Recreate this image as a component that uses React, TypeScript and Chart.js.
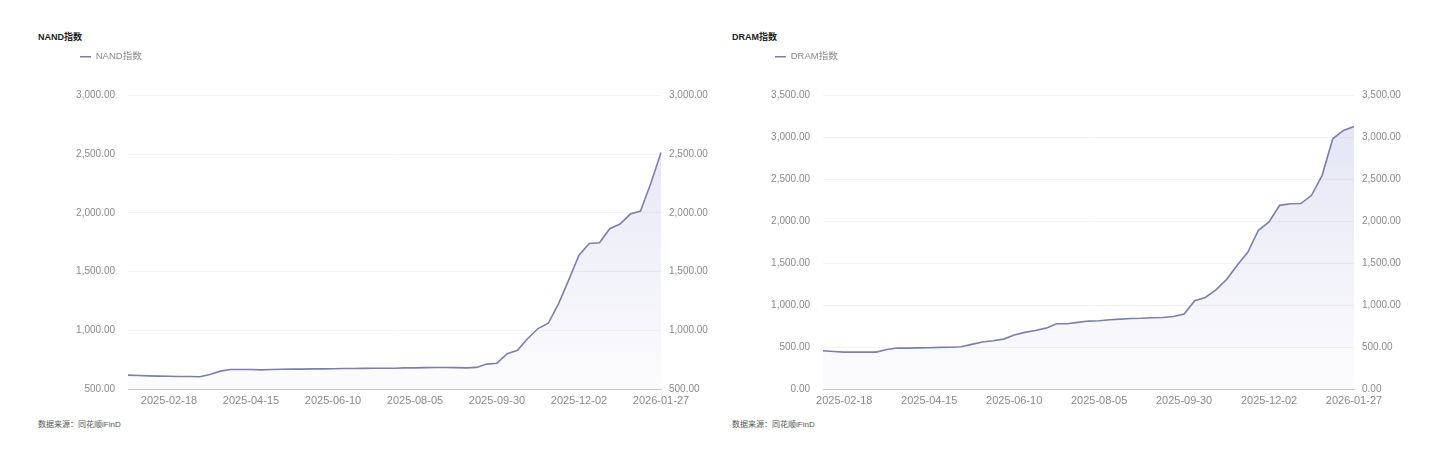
import React, { useEffect, useRef } from 'react';
import { Chart, registerables } from 'chart.js';

Chart.register(...registerables);

// weekly dates (Tuesdays), National Day week is missing
const weekDates = [
  '2025-01-21', '2025-01-28', '2025-02-04', '2025-02-11', '2025-02-18', '2025-02-25',
  '2025-03-04', '2025-03-11', '2025-03-18', '2025-03-25', '2025-04-01', '2025-04-08',
  '2025-04-15', '2025-04-22', '2025-04-29', '2025-05-06', '2025-05-13', '2025-05-20',
  '2025-05-27', '2025-06-03', '2025-06-10', '2025-06-17', '2025-06-24', '2025-07-01',
  '2025-07-08', '2025-07-15', '2025-07-22', '2025-07-29', '2025-08-05', '2025-08-12',
  '2025-08-19', '2025-08-26', '2025-09-02', '2025-09-09', '2025-09-16', '2025-09-23',
  '2025-09-30', '2025-10-14', '2025-10-21', '2025-10-28', '2025-11-04', '2025-11-11',
  '2025-11-18', '2025-11-25', '2025-12-02', '2025-12-09', '2025-12-16', '2025-12-23',
  '2025-12-30', '2026-01-06', '2026-01-13', '2026-01-20', '2026-01-27',
];

const nandDates = weekDates;
const dramDates = weekDates.slice(2);

const xTickLabels = [
  '2025-02-18', '2025-04-15', '2025-06-10', '2025-08-05', '2025-09-30', '2025-12-02', '2026-01-27',
];

const nandValues = [
  618, 615, 612, 610, 608, 607, 606, 604, 624, 652, 666, 666, 666, 663, 666, 668,
  669, 669, 671, 671, 672, 674, 674, 676, 677, 677, 677, 680, 680, 682, 683, 683,
  682, 680, 684, 712, 720, 800, 830, 930, 1015, 1060, 1225, 1430, 1640, 1740, 1745,
  1865, 1905, 1990, 2015, 2250, 2515,
];

const dramValues = [
  456, 448, 440, 440, 440, 440, 472, 488, 488, 490, 492, 496, 497, 504, 532, 560,
  575, 595, 643, 675, 698, 726, 778, 778, 794, 810, 813, 825, 833, 841, 843, 849,
  853, 865, 893, 1052, 1091, 1183, 1306, 1476, 1631, 1893, 1992, 2190, 2210, 2212,
  2310, 2548, 2984, 3083, 3131,
];

const FONT = "'Liberation Sans', 'Noto Sans CJK SC', Arial, sans-serif";
const LINE_COLOR = '#7b80aa';

const fmt = (v: number) =>
  Number(v).toLocaleString('en-US', { minimumFractionDigits: 2, maximumFractionDigits: 2 });

interface PanelProps {
  name: string;
  labels: string[];
  values: number[];
  yMin: number;
  yMax: number;
  left: number;
  padLeft: number;
  padRight: number;
}

const ChartPanel: React.FC<PanelProps> = ({ name, labels, values, yMin, yMax, left, padLeft, padRight }) => {
  const canvasRef = useRef<HTMLCanvasElement | null>(null);

  useEffect(() => {
    if (!canvasRef.current) return;
    const ctx = canvasRef.current.getContext('2d');
    if (!ctx) return;

    // extra room between legend and plot
    const legendGap = {
      id: 'legendGap',
      beforeInit(chart: any) {
        const origFit = chart.legend.fit;
        chart.legend.fit = function () {
          origFit.bind(chart.legend)();
          this.height += 24;
        };
      },
    };

    const yTicks = {
      color: '#8a8a8a',
      font: { family: FONT, size: 10 },
      stepSize: 500,
      callback: (v: any) => fmt(v),
    };

    const chart = new Chart(ctx, {
      type: 'line',
      data: {
        labels,
        datasets: [
          {
            label: name,
            data: values,
            borderColor: LINE_COLOR,
            borderWidth: 1.6,
            pointRadius: 0,
            tension: 0,
            fill: 'start',
            backgroundColor: (c: any) => {
              const area = c.chart.chartArea;
              if (!area) return 'rgba(123,128,190,0.1)';
              const g = c.chart.ctx.createLinearGradient(0, area.top, 0, area.bottom);
              g.addColorStop(0, 'rgba(123,128,200,0.22)');
              g.addColorStop(1, 'rgba(123,128,200,0.02)');
              return g;
            },
          },
        ],
      },
      options: {
        animation: false,
        responsive: true,
        maintainAspectRatio: false,
        layout: { padding: { left: padLeft, right: padRight, top: 0, bottom: 4 } },
        plugins: {
          legend: {
            position: 'top',
            align: 'start',
            labels: {
              usePointStyle: true,
              pointStyle: 'line',
              pointStyleWidth: 11,
              boxHeight: 9,
              color: '#8a8a8a',
              font: { family: FONT, size: 9.5 },
              padding: 8,
            },
          },
          tooltip: { enabled: false },
        },
        scales: {
          x: {
            type: 'category',
            grid: { display: false, drawTicks: false },
            border: { display: true, color: '#c8c8c8', width: 1 },
            ticks: {
              autoSkip: false,
              maxRotation: 0,
              padding: 5,
              color: '#8a8a8a',
              font: { family: FONT, size: 11 },
              callback: function (this: any, value: any) {
                const lab = this.getLabelForValue(value);
                return xTickLabels.includes(lab) ? lab : '';
              },
            },
            afterFit: (axis: any) => {
              axis.height = 22;
            },
          },
          y: {
            position: 'left',
            min: yMin,
            max: yMax,
            grid: { color: '#f3f3f3', drawTicks: false },
            border: { display: false },
            ticks: { ...yTicks, padding: 13 },
            afterFit: (axis: any) => {
              axis.width = 56;
            },
          },
          y1: {
            position: 'right',
            min: yMin,
            max: yMax,
            grid: { display: false, drawTicks: false },
            border: { display: false },
            ticks: { ...yTicks, padding: 8 },
            afterFit: (axis: any) => {
              axis.width = 48;
            },
          },
        },
      },
      plugins: [legendGap],
    } as any);

    return () => {
      chart.destroy();
    };
  }, [name, labels, values, yMin, yMax, padLeft, padRight]);

  return (
    <>
      <div
        style={{
          position: 'absolute',
          left: left + 8,
          top: 23,
          fontSize: 9,
          lineHeight: '12px',
          fontWeight: 'bold',
          color: '#222',
        }}
      >
        {name}
      </div>
      <div style={{ position: 'absolute', left, top: 36, width: 690, height: 371 }}>
        <canvas ref={canvasRef} />
      </div>
      <div
        style={{
          position: 'absolute',
          left: left + 8,
          top: 411,
          fontSize: 8,
          lineHeight: '12px',
          color: '#555',
        }}
      >
        数据来源：同花顺iFinD
      </div>
    </>
  );
};

export default function App() {
  return (
    <div
      style={{
        position: 'relative',
        width: 1422,
        height: 434,
        background: '#fff',
        fontFamily: FONT,
      }}
    >
      <ChartPanel
        name="NAND指数"
        labels={nandDates}
        values={nandValues}
        yMin={500}
        yMax={3000}
        left={22}
        padLeft={42}
        padRight={11}
      />
      <ChartPanel
        name="DRAM指数"
        labels={dramDates}
        values={dramValues}
        yMin={0}
        yMax={3500}
        left={716}
        padLeft={43}
        padRight={12}
      />
    </div>
  );
}
